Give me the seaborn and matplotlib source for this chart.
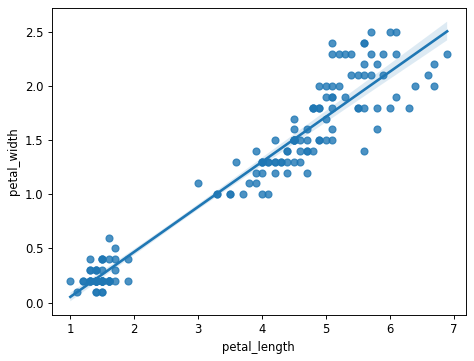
import matplotlib
matplotlib.use("Agg")
import matplotlib.pyplot as plt
import seaborn as sns
import pandas as pd

petal_length = [
    1.4, 1.4, 1.3, 1.5, 1.4, 1.7, 1.4, 1.5, 1.4, 1.5,
    1.5, 1.6, 1.4, 1.1, 1.2, 1.5, 1.3, 1.4, 1.7, 1.5,
    1.7, 1.5, 1.0, 1.7, 1.9, 1.6, 1.6, 1.5, 1.4, 1.6,
    1.6, 1.5, 1.5, 1.4, 1.5, 1.2, 1.3, 1.4, 1.3, 1.5,
    1.3, 1.3, 1.3, 1.6, 1.9, 1.4, 1.6, 1.4, 1.5, 1.4,
    4.7, 4.5, 4.9, 4.0, 4.6, 4.5, 4.7, 3.3, 4.6, 3.9,
    3.5, 4.2, 4.0, 4.7, 3.6, 4.4, 4.5, 4.1, 4.5, 3.9,
    4.8, 4.0, 4.9, 4.7, 4.3, 4.4, 4.8, 5.0, 4.5, 3.5,
    3.8, 3.7, 3.9, 5.1, 4.5, 4.5, 4.7, 4.4, 4.1, 4.0,
    4.4, 4.6, 4.0, 3.3, 4.2, 4.2, 4.2, 4.3, 3.0, 4.1,
    6.0, 5.1, 5.9, 5.6, 5.8, 6.6, 4.5, 6.3, 5.8, 6.1,
    5.1, 5.3, 5.5, 5.0, 5.1, 5.3, 5.5, 6.7, 6.9, 5.0,
    5.7, 4.9, 6.7, 4.9, 5.7, 6.0, 4.8, 4.9, 5.6, 5.8,
    6.1, 6.4, 5.6, 5.1, 5.6, 6.1, 5.6, 5.5, 4.8, 5.4,
    5.6, 5.1, 5.1, 5.9, 5.7, 5.2, 5.0, 5.2, 5.4, 5.1,
]
petal_width = [
    0.2, 0.2, 0.2, 0.2, 0.2, 0.4, 0.3, 0.2, 0.2, 0.1,
    0.2, 0.2, 0.1, 0.1, 0.2, 0.4, 0.4, 0.3, 0.3, 0.3,
    0.2, 0.4, 0.2, 0.5, 0.2, 0.2, 0.4, 0.2, 0.2, 0.2,
    0.2, 0.4, 0.1, 0.2, 0.2, 0.2, 0.2, 0.1, 0.2, 0.2,
    0.3, 0.3, 0.2, 0.6, 0.4, 0.3, 0.2, 0.2, 0.2, 0.2,
    1.4, 1.5, 1.5, 1.3, 1.5, 1.3, 1.6, 1.0, 1.3, 1.4,
    1.0, 1.5, 1.0, 1.4, 1.3, 1.4, 1.5, 1.0, 1.5, 1.1,
    1.8, 1.3, 1.5, 1.2, 1.3, 1.4, 1.4, 1.7, 1.5, 1.0,
    1.1, 1.0, 1.2, 1.6, 1.5, 1.6, 1.5, 1.3, 1.3, 1.3,
    1.2, 1.4, 1.2, 1.0, 1.3, 1.2, 1.3, 1.3, 1.1, 1.3,
    2.5, 1.9, 2.1, 1.8, 2.2, 2.1, 1.7, 1.8, 1.8, 2.5,
    2.0, 1.9, 2.1, 2.0, 2.4, 2.3, 1.8, 2.2, 2.3, 1.5,
    2.3, 2.0, 2.0, 1.8, 2.1, 1.8, 1.8, 1.8, 2.1, 1.6,
    1.9, 2.0, 2.2, 1.5, 1.4, 2.3, 2.4, 1.8, 1.8, 2.1,
    2.4, 2.3, 1.9, 2.3, 2.5, 2.3, 1.9, 2.0, 2.3, 1.8,
]

df = pd.DataFrame({"petal_length": petal_length, "petal_width": petal_width})

DPI = 83.4
fig = plt.figure(figsize=(474 / DPI, 361 / DPI), dpi=DPI)
ax = fig.add_axes([51.5 / 474, 1 - 315.3 / 361, (466 - 51.5) / 474, (315.3 - 7.7) / 361])
sns.regplot(data=df, x="petal_length", y="petal_width", ax=ax, seed=0)
fig.savefig("out.png", dpi=DPI)
